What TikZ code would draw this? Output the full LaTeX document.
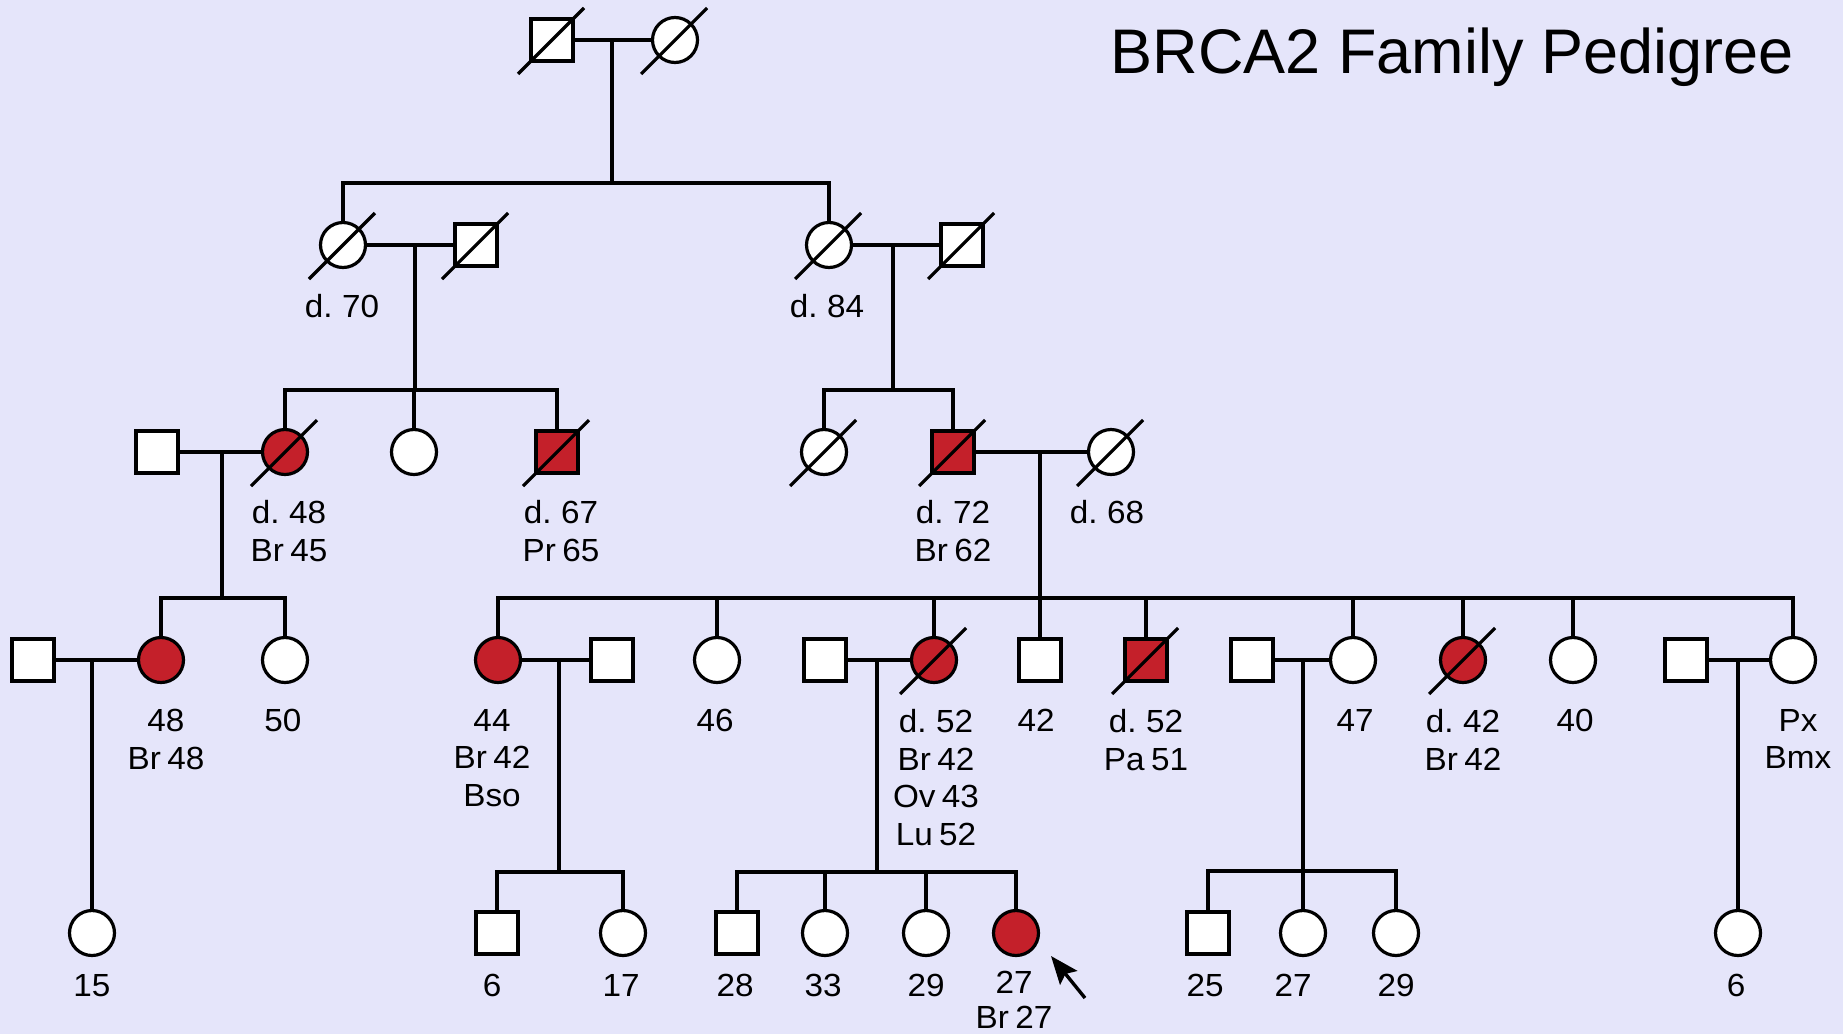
\documentclass[tikz,border=0pt]{standalone}
\usepackage{fontspec}
\setmainfont{Liberation Sans}
\newfontfamily\lblfont[WordSpace=0.7,FakeStretch=1.04]{Liberation Sans}
\usetikzlibrary{arrows.meta,calc}
\definecolor{bg}{RGB}{229,229,250}
\definecolor{aff}{RGB}{196,32,42}
\tikzset{
  ln/.style={line width=3.2pt, draw=black},
  male/.style={draw=black, line width=3.2pt, fill=white, rectangle, minimum size=42pt, inner sep=0pt},
  female/.style={draw=black, line width=3.2pt, fill=white, circle, minimum size=45pt, inner sep=0pt},
  affected/.style={fill=aff},
  lbl/.style={font=\lblfont\fontsize{32}{37.7}\selectfont, align=center, inner sep=0pt, anchor=north},
}
\newcommand\deadslash[1]{\draw[ln] ([shift={(-34,34)}]#1.center) -- ([shift={(32,-32)}]#1.center);}
\begin{document}
\begin{tikzpicture}[x=1pt,y=-1pt]
\fill[bg] (0,0) rectangle (1843,1034);
\useasboundingbox (0,0) rectangle (1843,1034);

\node[font=\fontsize{63}{70}\selectfont, anchor=base, inner sep=0pt] (title) at (1452,73) {BRCA2 Family Pedigree};

% ---------- Generation I ----------
\node[male] (I1) at (552,40) {};
\node[female] (I2) at (675,40) {};
\coordinate (mI) at (612,40);
\coordinate (sI) at (612,183);

% ---------- Generation II ----------
\node[female] (II1) at (343,245) {};
\node[male] (II2) at (476,245) {};
\node[female] (II3) at (829,245) {};
\node[male] (II4) at (962,245) {};
\coordinate (mII1) at (415,245);
\coordinate (sII1) at (415,390);
\coordinate (mII2) at (893,245);
\coordinate (sII2) at (893,390);

% ---------- Generation III ----------
\node[male] (III1) at (157,452) {};
\node[female,affected] (III2) at (285,452) {};
\node[female] (III3) at (414,452) {};
\node[male,affected] (III4) at (557,452) {};
\node[female] (III5) at (824,452) {};
\node[male,affected] (III6) at (953,452) {};
\node[female] (III7) at (1111,452) {};
\coordinate (mIII1) at (222,452);
\coordinate (sIII1) at (222,598);
\coordinate (mIII2) at (1040,452);
\coordinate (sIII2) at (1040,598);

% ---------- Generation IV ----------
\node[male] (IV1) at (33,660) {};
\node[female,affected] (IV2) at (161,660) {};
\node[female] (IV3) at (285,660) {};
\node[female,affected] (IV4) at (498,660) {};
\node[male] (IV5) at (612,660) {};
\node[female] (IV6) at (717,660) {};
\node[male] (IV7) at (825,660) {};
\node[female,affected] (IV8) at (934,660) {};
\node[male] (IV9) at (1040,660) {};
\node[male,affected] (IV10) at (1146,660) {};
\node[male] (IV11) at (1252,660) {};
\node[female] (IV12) at (1353,660) {};
\node[female,affected] (IV13) at (1463,660) {};
\node[female] (IV14) at (1573,660) {};
\node[male] (IV15) at (1686,660) {};
\node[female] (IV16) at (1793,660) {};
\coordinate (mIV1) at (92,660);
\coordinate (mIV2) at (559,660);
\coordinate (sIV2) at (559,872);
\coordinate (mIV3) at (877,660);
\coordinate (sIV3) at (877,872);
\coordinate (mIV4) at (1303,660);
\coordinate (sIV4) at (1303,871);
\coordinate (mIV5) at (1738,660);

% ---------- Generation V ----------
\node[female] (V1) at (92,933) {};
\node[male] (V2) at (497,933) {};
\node[female] (V3) at (623,933) {};
\node[male] (V4) at (737,933) {};
\node[female] (V5) at (825,933) {};
\node[female] (V6) at (926,933) {};
\node[female,affected] (V7) at (1016,933) {};
\node[male] (V8) at (1208,933) {};
\node[female] (V9) at (1303,933) {};
\node[female] (V10) at (1396,933) {};
\node[female] (V11) at (1738,933) {};

% ---------- connectors ----------
\begin{scope}[ln]
% I
\draw (I1.east) -- (I2.west);
\draw (mI) -- (sI);
\draw (II1.north) -- (II1.north |- sI) -- (II3.north |- sI) -- (II3.north);
% II
\draw (II1.east) -- (II2.west);
\draw (mII1) -- (sII1);
\draw (II3.east) -- (II4.west);
\draw (mII2) -- (sII2);
\draw (III2.north) -- (III2.north |- sII1) -- (III4.north |- sII1) -- (III4.north);
\draw (III3.north) -- (III3.north |- sII1);
\draw (III5.north) -- (III5.north |- sII2) -- (III6.north |- sII2) -- (III6.north);
% III
\draw (III1.east) -- (III2.west);
\draw (mIII1) -- (sIII1);
\draw (IV2.north) -- (IV2.north |- sIII1) -- (IV3.north |- sIII1) -- (IV3.north);
\draw (III6.east) -- (III7.west);
\draw (mIII2) -- (sIII2);
\draw (IV4.north) -- (IV4.north |- sIII2) -- (IV16.north |- sIII2) -- (IV16.north);
\foreach \c in {IV6,IV8,IV9,IV10,IV12,IV13,IV14}
  {\draw (\c.north) -- (\c.north |- sIII2);}
% IV
\draw (IV1.east) -- (IV2.west);
\draw (mIV1) -- (V1.north);
\draw (IV4.east) -- (IV5.west);
\draw (mIV2) -- (sIV2);
\draw (V2.north) -- (V2.north |- sIV2) -- (V3.north |- sIV2) -- (V3.north);
\draw (IV7.east) -- (IV8.west);
\draw (mIV3) -- (sIV3);
\draw (V4.north) -- (V4.north |- sIV3) -- (V7.north |- sIV3) -- (V7.north);
\draw (V5.north) -- (V5.north |- sIV3);
\draw (V6.north) -- (V6.north |- sIV3);
\draw (IV11.east) -- (IV12.west);
\draw (mIV4) -- (V9.north);
\draw (V8.north) -- (V8.north |- sIV4) -- (V10.north |- sIV4) -- (V10.north);
\draw (IV15.east) -- (IV16.west);
\draw (mIV5) -- (V11.north);
\end{scope}

% ---------- deceased slashes ----------
\foreach \d in {I1,I2,II1,II2,II3,II4,III2,III4,III5,III6,III7,IV8,IV10,IV13}
  {\deadslash{\d}}

% ---------- proband arrow ----------
\coordinate (arrtail) at (1085,998);
\coordinate (arrtip) at (1051,956);
\draw[line width=3.4pt, -{Stealth[length=28pt,width=22pt,inset=5pt]}] (arrtail) -- (arrtip);

% ---------- labels ----------
\node[lbl] (L1) at (342,294) {d. 70};
\node[lbl] (L2) at (827,294) {d. 84};
\node[lbl] (L3) at (289,500) {d. 48\\Br 45};
\node[lbl] (L4) at (561,500) {d. 67\\Pr 65};
\node[lbl] (L5) at (953,500) {d. 72\\Br 62};
\node[lbl] (L6) at (1107,500) {d. 68};
\node[lbl] (L7) at (166,709) {48\\Br 48};
\node[lbl] (L8) at (283,709) {50};
\node[lbl] (L9) at (492,709) {44\\Br 42\\Bso};
\node[lbl] (L10) at (715,709) {46};
\node[lbl] (L11) at (936,709) {d. 52\\Br 42\\Ov 43\\Lu 52};
\node[lbl] (L12) at (1036,709) {42};
\node[lbl] (L13) at (1146,709) {d. 52\\Pa 51};
\node[lbl] (L14) at (1355,709) {47};
\node[lbl] (L15) at (1463,709) {d. 42\\Br 42};
\node[lbl] (L16) at (1575,709) {40};
\node[lbl] (L17) at (1798,709) {Px\\Bmx};
\node[lbl] (L18) at (92,974) {15};
\node[lbl] (L19) at (492,974) {6};
\node[lbl] (L20) at (621,974) {17};
\node[lbl] (L21) at (735,974) {28};
\node[lbl] (L22) at (823,974) {33};
\node[lbl] (L23) at (926,974) {29};
\node[lbl, font=\lblfont\fontsize{32}{34.5}\selectfont] (L24) at (1014,971) {27\\Br 27};
\node[lbl] (L25) at (1205,974) {25};
\node[lbl] (L26) at (1293,974) {27};
\node[lbl] (L27) at (1396,974) {29};
\node[lbl] (L28) at (1736,974) {6};
\end{tikzpicture}
\end{document}
